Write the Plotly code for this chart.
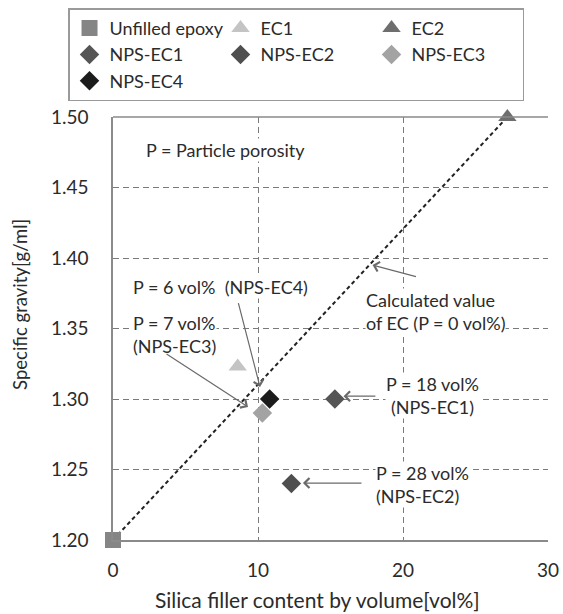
import plotly.graph_objects as go

# ---- data ----
names = ["Unfilled epoxy", "EC1", "EC2", "NPS-EC1", "NPS-EC2", "NPS-EC3", "NPS-EC4"]
filler_vol = [0.0, 8.6, 27.2, 15.3, 12.3, 10.3, 10.8]
spec_gravity = [1.200, 1.323, 1.500, 1.300, 1.240, 1.290, 1.300]
symbols = ["square", "triangle-up", "triangle-up", "diamond", "diamond", "diamond", "diamond"]
colors = ["#858585", "#c4c4c4", "#6e6e6e", "#555555", "#4f4f4f", "#a3a3a3", "#1c1c1c"]
sizes = [16, 16, 16, 15, 15, 15, 15]

x_ticks = [0, 10, 20, 30]
y_ticks = [1.20, 1.25, 1.30, 1.35, 1.40, 1.45, 1.50]

x_title = "Silica filler content by volume[vol%]"
y_title = "Specific gravity[g/ml]"

FONT = "Lato, Calibri, Carlito, sans-serif"
TXT = "#2b2b2b"

fig = go.Figure()

# calculated line EC (P = 0 vol%): unfilled epoxy -> EC2
fig.add_trace(go.Scatter(
    x=[filler_vol[0], filler_vol[2]], y=[spec_gravity[0], spec_gravity[2]],
    mode="lines", line=dict(color="#222222", width=2, dash="4px,3px"),
    showlegend=False, hoverinfo="skip"))

for n, xv, yv, s, c, sz in zip(names, filler_vol, spec_gravity, symbols, colors, sizes):
    fig.add_trace(go.Scatter(
        x=[xv], y=[yv], mode="markers", name=n,
        marker=dict(symbol=s, color=c, size=sz, line=dict(width=0)),
        cliponaxis=False))

# ---- annotations ----
texts = [
    dict(x=2.2, y=1.4766, text="P = Particle porosity", xanchor="left"),
    dict(x=1.3, y=1.3794, text="P = 6 vol%  (NPS-EC4)", xanchor="left"),
    dict(x=1.3, y=1.346, text="P = 7 vol%<br>(NPS-EC3)", xanchor="left", align="left"),
    dict(x=17.4, y=1.3623, text="Calculated value<br>of EC (P = 0 vol%)", xanchor="left", align="left"),
    dict(x=22.0, y=1.3025, text="P = 18 vol%<br>(NPS-EC1)", xanchor="center", align="center"),
    dict(x=18.1, y=1.2393, text="P = 28 vol%<br>(NPS-EC2)", xanchor="left", align="left"),
]
for t in texts:
    fig.add_annotation(xref="x", yref="y", showarrow=False, bgcolor="white",
                       font=dict(family=FONT, size=18, color=TXT), borderpad=0,
                       yanchor="middle", **t)

# arrows: (head_x, head_y, tail_x, tail_y)
arrows = [
    (17.9, 1.395, 21.0, 1.3865),
    (10.14, 1.3085, 8.62, 1.369),
    (9.31, 1.2943, 3.59, 1.3326),
    (15.9, 1.302, 18.2, 1.302),
    (13.1, 1.2404, 17.24, 1.2404),
]
for hx, hy, tx, ty in arrows:
    fig.add_annotation(x=hx, y=hy, ax=tx, ay=ty, xref="x", yref="y",
                       axref="x", ayref="y", text="", showarrow=True,
                       arrowhead=4, arrowsize=1.6, arrowwidth=1.2,
                       arrowcolor="#6a6a6a", standoff=0, startstandoff=0)

# axis titles (placed as in the original, slightly off-centre)
fig.add_annotation(xref="paper", yref="paper", x=0.471, y=-0.140, text=x_title,
                   showarrow=False, xanchor="center", yanchor="middle",
                   font=dict(family=FONT, size=21, color=TXT))
fig.add_annotation(xref="paper", yref="paper", x=-0.214, y=0.558, text=y_title,
                   showarrow=False, xanchor="center", yanchor="middle", textangle=-90,
                   font=dict(family=FONT, size=18.5, color=TXT))

# top border solid
fig.add_shape(type="line", xref="paper", yref="paper", x0=0, x1=1, y0=1, y1=1,
              line=dict(color="#8a8a8a", width=1.5))

fig.update_xaxes(
    range=[0, 30], tickvals=x_ticks, ticktext=[str(v) for v in x_ticks],
    showgrid=True, gridcolor="#7a7a7a", griddash="6px,4px", gridwidth=1,
    showline=True, linecolor="#8a8a8a", linewidth=1.5, zeroline=False,
    ticks="", ticklabelstandoff=12, tickfont=dict(family=FONT, size=19, color=TXT))
fig.update_yaxes(
    range=[1.20, 1.50], tickvals=y_ticks, ticktext=[f"{v:.2f}" for v in y_ticks],
    showgrid=True, gridcolor="#7a7a7a", griddash="6px,4px", gridwidth=1,
    showline=True, linecolor="#8a8a8a", linewidth=1.5, zeroline=False,
    ticks="", ticklabelstandoff=19, tickfont=dict(family=FONT, size=19, color=TXT))

fig.update_layout(
    width=563, height=614,
    margin=dict(l=113, r=15, t=117, b=74, autoexpand=False),
    paper_bgcolor="white", plot_bgcolor="white",
    font=dict(family=FONT, size=18, color=TXT),
    legend=dict(orientation="h", x=-0.1034, xanchor="left", y=1.257, yanchor="top",
                bordercolor="#9a9a9a", borderwidth=1.5, bgcolor="white",
                entrywidth=106, entrywidthmode="pixels", itemwidth=30,
                font=dict(family=FONT, size=18, color=TXT), tracegroupgap=0),
    showlegend=True,
)

fig.write_html("out.html",
               config={"displayModeBar": False},
               post_script="document.body.style.margin='0';"
                           "document.body.style.overflow='hidden';")
